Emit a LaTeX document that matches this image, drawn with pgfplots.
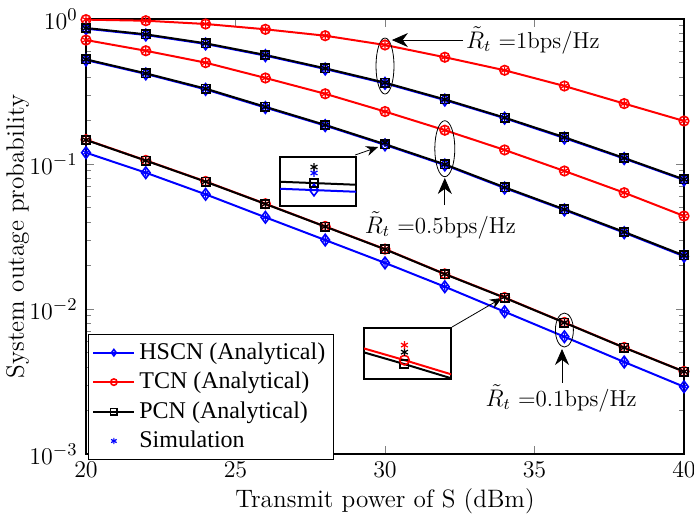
\documentclass[border=0pt,12pt]{standalone}
\usepackage{fontspec}
\newfontfamily\legfont{Liberation Serif}
\usepackage{pgfplots}
\usepackage{pgfplotstable}
\pgfplotsset{compat=1.18}
\usetikzlibrary{arrows.meta}

% Outage probability versus transmit power, one table per target rate
\pgfplotstableread{
x  hscn   tcn    pcn    hscnsim tcnsim pcnsim
20 0.858  0.990  0.867  0.858   0.990  0.867
22 0.776  0.973  0.784  0.776   0.973  0.784
24 0.673  0.924  0.680  0.673   0.924  0.680
26 0.559  0.849  0.565  0.559   0.849  0.565
28 0.452  0.767  0.457  0.452   0.767  0.457
30 0.360  0.662  0.364  0.360   0.662  0.364
32 0.276  0.545  0.279  0.276   0.545  0.279
34 0.207  0.443  0.209  0.207   0.443  0.209
36 0.151  0.345  0.153  0.151   0.345  0.153
38 0.109  0.261  0.110  0.109   0.261  0.110
40 0.0776 0.198  0.0784 0.0776  0.198  0.0784
}\rone

\pgfplotstableread{
x  hscn   tcn    pcn    hscnsim tcnsim pcnsim
20 0.521  0.716  0.527  0.521   0.716  0.527
22 0.418  0.604  0.422  0.418   0.604  0.422
24 0.327  0.500  0.331  0.327   0.500  0.331
26 0.245  0.392  0.248  0.245   0.392  0.248
28 0.184  0.305  0.186  0.184   0.305  0.186
30 0.1355 0.230  0.1370 0.1392  0.230  0.1405
32 0.0984 0.171  0.0995 0.0984  0.171  0.0995
34 0.0683 0.125  0.0691 0.0683  0.125  0.0691
36 0.0482 0.0895 0.0487 0.0482  0.0895 0.0487
38 0.0336 0.0634 0.0340 0.0336  0.0634 0.0340
40 0.0231 0.0438 0.0234 0.0231  0.0438 0.0234
}\rhalf

\pgfplotstableread{
x  hscn    tcn     pcn     hscnsim tcnsim  pcnsim
20 0.1197  0.1471  0.1465  0.1197  0.1471  0.1465
22 0.0871  0.1059  0.1055  0.0871  0.1059  0.1055
24 0.0618  0.0758  0.0755  0.0618  0.0758  0.0755
26 0.0429  0.0532  0.0530  0.0429  0.0532  0.0530
28 0.0299  0.0371  0.0370  0.0299  0.0371  0.0370
30 0.0208  0.0259  0.0258  0.0208  0.0259  0.0258
32 0.01425 0.01747 0.01740 0.01425 0.01747 0.01740
34 0.00958 0.01200 0.01195 0.00958 0.01219 0.01210
36 0.00644 0.00808 0.00805 0.00644 0.00808 0.00805
38 0.00431 0.00543 0.00541 0.00431 0.00543 0.00541
40 0.00291 0.00371 0.00370 0.00291 0.00371 0.00370
}\rtenth

\pgfplotsset{
  hs/.style={blue, line width=1pt, mark=diamond, mark size=2.9pt, mark options={solid, line width=0.8pt}},
  tc/.style={red, line width=1pt, mark=o, mark size=2.4pt, mark options={solid, line width=0.8pt}},
  pc/.style={black, line width=1pt, mark=square, mark size=2.1pt, mark options={solid, line width=0.8pt}},
  sim/.style={only marks, mark=asterisk, mark size=2pt, mark options={line width=0.6pt}},
}
\newcommand\axfont{\fontsize{12.6pt}{15pt}\selectfont}
\newcommand\notefont{\fontsize{11.5pt}{14pt}\selectfont}

\begin{document}
\begin{tikzpicture}
\begin{axis}[
  name=main,
  at={(0,0)}, anchor=south west,
  scale only axis, width=299pt, height=217.5pt,
  xmin=20, xmax=40, ymode=log, ymin=1e-3, ymax=1,
  xtick={20,25,30,35,40},
  tick align=inside,
  axis line style={line width=0.6pt},
  major tick length=4pt, minor tick length=2.5pt,
  tick label style={font=\axfont},
  label style={font=\axfont},
  xlabel={Transmit power of S (dBm)},
  ylabel={System outage probability},
  xlabel style={yshift=3pt},
  ylabel style={yshift=-8pt},
  legend cell align=left,
  legend style={at={(0.004,0.002)}, anchor=south west, yshift=-3pt, font=\legfont,
    draw=black, line width=0.6pt, row sep=0.6pt, inner sep=2pt, outer sep=0pt},
  legend image code/.code={
    \draw[mark repeat=2, mark phase=2, mark size=1.6pt]
      plot coordinates {(0cm,0cm) (0.36cm,0cm) (0.72cm,0cm)};},
]
% analytical curves
\addplot[hs] table[y=hscn]{\rone};
\addlegendentry{HSCN (Analytical)}
\addplot[hs, forget plot] table[y=hscn]{\rhalf};
\addplot[hs, forget plot] table[y=hscn]{\rtenth};
\addplot[tc] table[y=tcn]{\rone};
\addlegendentry{TCN (Analytical)}
\addplot[tc, forget plot] table[y=tcn]{\rhalf};
\addplot[tc, forget plot] table[y=tcn]{\rtenth};
\addplot[pc] table[y=pcn]{\rone};
\addlegendentry{PCN (Analytical)}
\addplot[pc, forget plot] table[y=pcn]{\rhalf};
\addplot[pc, forget plot] table[y=pcn]{\rtenth};
% Monte Carlo results
\addplot[sim, blue] table[y=hscnsim]{\rone};
\addlegendentry{Simulation}
\addplot[sim, blue, forget plot] table[y=hscnsim]{\rhalf};
\addplot[sim, blue, forget plot] table[y=hscnsim]{\rtenth};
\addplot[sim, red, forget plot] table[y=tcnsim]{\rone};
\addplot[sim, red, forget plot] table[y=tcnsim]{\rhalf};
\addplot[sim, red, forget plot] table[y=tcnsim]{\rtenth};
\addplot[sim, black, forget plot] table[y=pcnsim]{\rone};
\addplot[sim, black, forget plot] table[y=pcnsim]{\rhalf};
\addplot[sim, black, forget plot] table[y=pcnsim]{\rtenth};

% rate annotations
\draw[line width=0.4pt] (axis cs:30,0.474) ellipse (4.5pt and 14pt);
\draw[line width=0.4pt, -{Stealth[length=8pt, width=7pt]}] (axis cs:32.61,0.716) -- (axis cs:30.23,0.716);
\node[anchor=west, inner sep=0pt, font=\notefont] at (axis cs:32.7,0.716) {$\tilde{R}_t$ =1bps/Hz};

\draw[line width=0.4pt] (axis cs:32,0.1275) ellipse (5pt and 14pt);
\draw[line width=0.4pt, -{Stealth[length=8pt, width=7pt]}] (axis cs:32,0.0521) -- (axis cs:32,0.0801);
\node[inner sep=0pt, font=\notefont] at (axis cs:31.85,0.0380) {$\tilde{R}_t$ =0.5bps/Hz};

\draw[line width=0.4pt] (axis cs:36,0.00716) ellipse (4.5pt and 8.5pt);
\draw[line width=0.4pt, -{Stealth[length=8pt, width=7pt]}] (axis cs:35.92,0.00309) -- (axis cs:35.92,0.00530);
\node[inner sep=0pt, font=\notefont] at (axis cs:35.89,0.00243) {$\tilde{R}_t$ =0.1bps/Hz};

% pointers to the magnified views
\draw[line width=0.4pt, -{Stealth[length=6pt, width=5pt]}] (axis cs:29.0,0.1153) -- (axis cs:29.77,0.131);
\draw[line width=0.4pt, -{Stealth[length=6pt, width=5pt]}] (axis cs:32.24,0.00751) -- (axis cs:33.91,0.01191);
\end{axis}

% magnified view, 0.5 bps/Hz at 30 dBm
\begin{axis}[at={(97pt,124pt)}, anchor=south west, scale only axis,
  width=38pt, height=24.5pt, ymode=log, ticks=none,
  axis background/.style={fill=white}, axis line style={line width=0.6pt},
  xmin=29.9866, xmax=30.0166, ymin=0.13214, ymax=0.14273]
\addplot[hs, restrict x to domain=27.9:32.1] table[y=hscn]{\rhalf};
\addplot[pc, restrict x to domain=27.9:32.1] table[y=pcn]{\rhalf};
\addplot[sim, blue, restrict x to domain=29.9:30.1] table[y=hscnsim]{\rhalf};
\addplot[sim, black, restrict x to domain=29.9:30.1] table[y=pcnsim]{\rhalf};
\end{axis}

% magnified view, 0.1 bps/Hz at 34 dBm
\begin{axis}[at={(139pt,37.5pt)}, anchor=south west, scale only axis,
  width=43.5pt, height=25.5pt, ymode=log, ticks=none,
  axis background/.style={fill=white}, axis line style={line width=0.6pt},
  xmin=33.935, xmax=34.075, ymin=0.011764, ymax=0.012409]
\addplot[pc, restrict x to domain=31.9:36.1] table[y=pcn]{\rtenth};
\addplot[tc, restrict x to domain=31.9:36.1] table[y=tcn]{\rtenth};
\addplot[sim, black, restrict x to domain=33.9:34.1] table[y=pcnsim]{\rtenth};
\addplot[sim, red, restrict x to domain=33.9:34.1] table[y=tcnsim]{\rtenth};
\end{axis}

\pgfresetboundingbox
\useasboundingbox (-43pt,-31pt) rectangle (304pt,227pt);
\end{tikzpicture}
\end{document}
